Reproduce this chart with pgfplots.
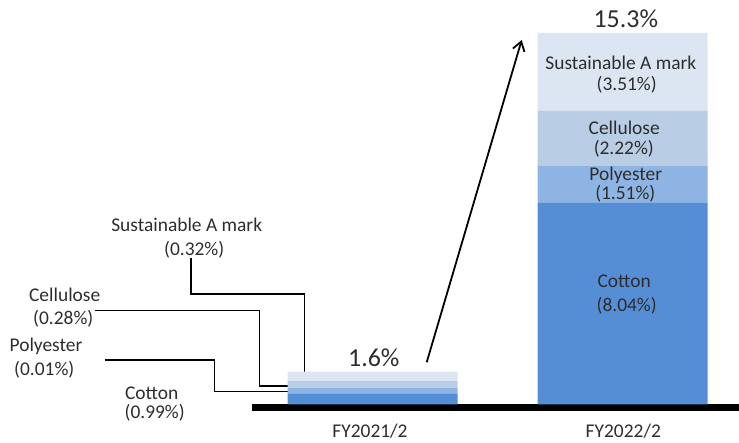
\documentclass[border=0pt]{standalone}
\usepackage{pgfplots}
\pgfplotsset{compat=1.18}
\usepackage{fontspec}
\setmainfont{Carlito}
\usetikzlibrary{arrows.meta}
\definecolor{cCotton}{RGB}{85,142,213}
\definecolor{cPoly}{RGB}{142,180,227}
\definecolor{cCell}{RGB}{185,205,229}
\definecolor{cSust}{RGB}{220,230,242}
\definecolor{txt}{RGB}{45,45,45}
\begin{document}
\begin{tikzpicture}
\begin{axis}[
  scale only axis, width=739bp, height=443bp,
  xmin=0, xmax=739, ymin=-1.585, ymax=16.653,
  hide axis, clip=false,
  ybar stacked, bar width=170,
]
% x positions are the bar centres (FY2021/2, FY2022/2)
\addplot[fill=cCotton, draw=none] coordinates {(372.5,0.44) (622.5,8.30)};
\addplot[fill=cPoly, draw=none] coordinates {(372.5,0.25) (622.5,1.51)};
\addplot[fill=cCell, draw=none] coordinates {(372.5,0.27) (622.5,2.29)};
\addplot[fill=cSust, draw=none] coordinates {(372.5,0.39) (622.5,3.20)};

% baseline
\draw[line width=6.5bp, black] (axis cs:252,-0.132) -- (axis cs:739,-0.132);

% leader lines
\draw[line width=1.8bp, black] (axis cs:191,6.031) -- (axis cs:191,4.549) -- (axis cs:304.5,4.549) -- (axis cs:304.5,1.132);
\draw[line width=1.8bp, black] (axis cs:95,3.870) -- (axis cs:259.5,3.870) -- (axis cs:259.5,0.762) -- (axis cs:288,0.762);
\draw[line width=1.8bp, black] (axis cs:104.5,1.832) -- (axis cs:214.5,1.832) -- (axis cs:214.5,0.535) -- (axis cs:288,0.535);

% arrow
\draw[line width=1.8bp, black, -{Straight Barb[length=9bp,width=12bp]}] (axis cs:426.7,1.737) -- (axis cs:521.7,15.006);

% anchor points for labels drawn above the bars
\coordinate (s1) at (axis cs:620.8,14.047);
\coordinate (s2) at (axis cs:626.7,13.152);
\coordinate (c1) at (axis cs:624.2,11.371);
\coordinate (c2) at (axis cs:623.8,10.548);
\coordinate (p1) at (axis cs:625.8,9.448);
\coordinate (p2) at (axis cs:625.3,8.695);
\coordinate (t1) at (axis cs:624.2,5.056);
\coordinate (t2) at (axis cs:626.7,4.055);

\coordinate (os1) at (axis cs:186.7,7.390);
\coordinate (os2) at (axis cs:194.2,6.361);
\coordinate (oc1) at (axis cs:64.7,4.508);
\coordinate (oc2) at (axis cs:63.3,3.549);
\coordinate (op1) at (axis cs:46,2.380);
\coordinate (op2) at (axis cs:44.3,1.420);
\coordinate (ot1) at (axis cs:151.7,0.473);
\coordinate (ot2) at (axis cs:154.7,-0.350);

\coordinate (tot1) at (axis cs:373.8,1.935);
\coordinate (tot2) at (axis cs:625.8,15.90);
\coordinate (fy1) at (axis cs:370,-1.09);
\coordinate (fy2) at (axis cs:623.3,-1.09);
\end{axis}
\tikzset{lab/.style={font=\fontsize{19.5}{23}\selectfont, text=txt, inner sep=0pt, anchor=center}}
% outside labels
\node[lab] at (os1) {Sustainable A mark};
\node[lab] at (os2) {(0.32\%)};
\node[lab] at (oc1) {Cellulose};
\node[lab] at (oc2) {(0.28\%)};
\node[lab] at (op1) {Polyester};
\node[lab] at (op2) {(0.01\%)};
\node[lab] at (ot1) {Cotton};
\node[lab] at (ot2) {(0.99\%)};
% inside labels
\node[lab] at (s1) {Sustainable A mark};
\node[lab] at (s2) {(3.51\%)};
\node[lab] at (c1) {Cellulose};
\node[lab] at (c2) {(2.22\%)};
\node[lab] at (p1) {Polyester};
\node[lab] at (p2) {(1.51\%)};
\node[lab] at (t1) {Cotton};
\node[lab] at (t2) {(8.04\%)};
% totals
\node[lab, font=\fontsize{26}{30}\selectfont] at (tot1) {1.6\%};
\node[lab, font=\fontsize{26}{30}\selectfont] at (tot2) {15.3\%};
% category labels
\node[lab] at (fy1) {FY2021/2};
\node[lab] at (fy2) {FY2022/2};
\pgfresetboundingbox
\path (current axis.south west) rectangle (current axis.north east);
\end{tikzpicture}
\end{document}
